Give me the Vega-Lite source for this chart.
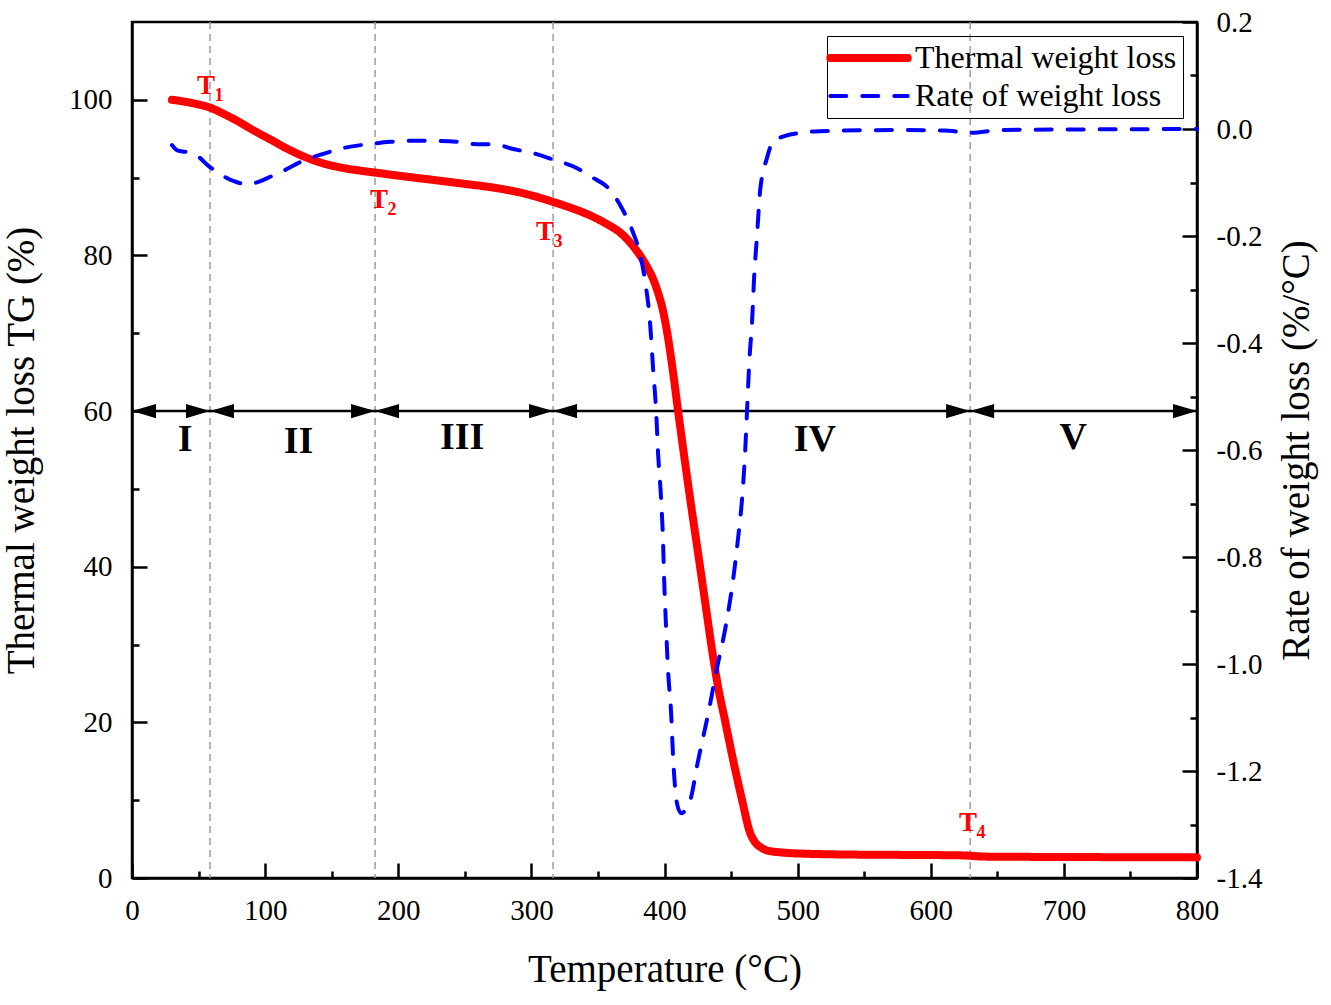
{
  "$schema": "https://vega.github.io/schema/vega-lite/v6.json",
  "width": 1065,
  "height": 856,
  "autosize": {"type": "none"},
  "padding": {"left": 132, "top": 22, "right": 134, "bottom": 127},
  "background": "white",
  "config": {
    "font": "Liberation Serif",
    "view": {"stroke": "black", "strokeWidth": 2.5},
    "axis": {
      "grid": false, "domainColor": "black", "domainWidth": 2.5,
      "tickColor": "black", "tickWidth": 2.5,
      "labelFont": "Liberation Serif", "labelFontSize": 29, "labelColor": "black",
      "titleFont": "Liberation Serif", "titleFontSize": 39, "titleFontWeight": "normal", "titleColor": "black"
    },
    "legend": {
      "orient": "top-right", "offset": 14, "strokeColor": "black", "padding": 6,
      "labelFont": "Liberation Serif", "labelFontSize": 32, "labelColor": "black", "labelLimit": 400,
      "symbolType": "stroke", "symbolSize": 6000, "symbolOffset": 20, "labelOffset": 30, "rowPadding": 6
    }
  },
  "datasets": {
    "tg": [
      {"T": 30, "v": 100}, {"T": 40, "v": 99.75}, {"T": 50, "v": 99.4}, {"T": 58.6, "v": 99.0},
      {"T": 70, "v": 98.1}, {"T": 81, "v": 97.1}, {"T": 92, "v": 96.0}, {"T": 104, "v": 94.9},
      {"T": 114, "v": 93.95}, {"T": 124, "v": 93.1}, {"T": 136, "v": 92.25}, {"T": 148.8, "v": 91.6},
      {"T": 161.5, "v": 91.15}, {"T": 173.5, "v": 90.85}, {"T": 182.6, "v": 90.65}, {"T": 200, "v": 90.25},
      {"T": 224, "v": 89.75}, {"T": 250, "v": 89.2}, {"T": 274, "v": 88.65}, {"T": 295, "v": 87.95},
      {"T": 316, "v": 86.9}, {"T": 330, "v": 86.1}, {"T": 346, "v": 85.0}, {"T": 357, "v": 84.0},
      {"T": 367, "v": 82.9}, {"T": 375, "v": 81.5}, {"T": 382, "v": 79.9}, {"T": 387, "v": 78.5},
      {"T": 391.4, "v": 77.0}, {"T": 395, "v": 75.3}, {"T": 399, "v": 72.8}, {"T": 402, "v": 70.1},
      {"T": 406.5, "v": 64.9}, {"T": 410.2, "v": 60.0}, {"T": 414, "v": 55.2}, {"T": 419.2, "v": 48.8},
      {"T": 424.5, "v": 42.6}, {"T": 428.3, "v": 38.1}, {"T": 432, "v": 33.7}, {"T": 435.8, "v": 29.2},
      {"T": 440.3, "v": 24.5}, {"T": 445.5, "v": 20.2}, {"T": 451.5, "v": 15.2}, {"T": 458.3, "v": 10.0},
      {"T": 464.3, "v": 5.8}, {"T": 468, "v": 4.6}, {"T": 471.8, "v": 4.0}, {"T": 478, "v": 3.5},
      {"T": 486.8, "v": 3.3}, {"T": 500, "v": 3.15}, {"T": 547, "v": 3.0}, {"T": 600, "v": 2.95},
      {"T": 625, "v": 2.9}, {"T": 640, "v": 2.75}, {"T": 700, "v": 2.7}, {"T": 800, "v": 2.65}
    ],
    "rate": [
      {"T": 30, "v": -0.030}, {"T": 34, "v": -0.040}, {"T": 38, "v": -0.042}, {"T": 44, "v": -0.044},
      {"T": 50, "v": -0.052}, {"T": 57, "v": -0.068}, {"T": 66, "v": -0.084}, {"T": 76, "v": -0.097},
      {"T": 86, "v": -0.103}, {"T": 96, "v": -0.098}, {"T": 105, "v": -0.088}, {"T": 113, "v": -0.079},
      {"T": 128, "v": -0.060}, {"T": 143, "v": -0.047}, {"T": 158, "v": -0.036}, {"T": 179, "v": -0.028},
      {"T": 194, "v": -0.024}, {"T": 211, "v": -0.022}, {"T": 224, "v": -0.022}, {"T": 246, "v": -0.024},
      {"T": 256, "v": -0.028}, {"T": 274, "v": -0.029}, {"T": 284, "v": -0.036}, {"T": 304, "v": -0.047},
      {"T": 316, "v": -0.057}, {"T": 334, "v": -0.073}, {"T": 344, "v": -0.088}, {"T": 359, "v": -0.114},
      {"T": 368, "v": -0.148}, {"T": 376, "v": -0.191}, {"T": 381, "v": -0.228}, {"T": 385.4, "v": -0.284},
      {"T": 389.2, "v": -0.364}, {"T": 391.4, "v": -0.447}, {"T": 393.7, "v": -0.527}, {"T": 395.2, "v": -0.607},
      {"T": 397.4, "v": -0.690}, {"T": 398.9, "v": -0.770}, {"T": 399.7, "v": -0.839}, {"T": 401.2, "v": -0.933},
      {"T": 402.7, "v": -1.013}, {"T": 405, "v": -1.093}, {"T": 406.5, "v": -1.176}, {"T": 409.5, "v": -1.262},
      {"T": 412.5, "v": -1.279}, {"T": 416, "v": -1.272}, {"T": 419.2, "v": -1.256}, {"T": 425.2, "v": -1.181},
      {"T": 432.8, "v": -1.093}, {"T": 439.5, "v": -1.007}, {"T": 446.3, "v": -0.925}, {"T": 451.6, "v": -0.841},
      {"T": 455.3, "v": -0.764}, {"T": 458.3, "v": -0.690}, {"T": 460.6, "v": -0.602}, {"T": 462.1, "v": -0.521},
      {"T": 463.6, "v": -0.439}, {"T": 465.8, "v": -0.359}, {"T": 467.3, "v": -0.279}, {"T": 469.6, "v": -0.196},
      {"T": 471.8, "v": -0.116}, {"T": 477, "v": -0.054}, {"T": 482, "v": -0.022}, {"T": 502, "v": -0.007},
      {"T": 517, "v": -0.004}, {"T": 577, "v": -0.002}, {"T": 610, "v": -0.003}, {"T": 630, "v": -0.007},
      {"T": 652, "v": -0.002}, {"T": 700, "v": -0.001}, {"T": 800, "v": 0.0}
    ],
    "bounds": [{"T": 58.6}, {"T": 182.6}, {"T": 316.3}, {"T": 629.6}],
    "arrows": [
      {"T": 0, "v": 60, "dir": "left"}, {"T": 58.6, "v": 60, "dir": "right"},
      {"T": 58.6, "v": 60, "dir": "left"}, {"T": 182.6, "v": 60, "dir": "right"},
      {"T": 182.6, "v": 60, "dir": "left"}, {"T": 316.3, "v": 60, "dir": "right"},
      {"T": 316.3, "v": 60, "dir": "left"}, {"T": 629.6, "v": 60, "dir": "right"},
      {"T": 629.6, "v": 60, "dir": "left"}, {"T": 800, "v": 60, "dir": "right"}
    ],
    "span": [{"T": 0, "T2": 800, "v": 60}],
    "roman": [
      {"T": 40, "v": 56.3, "label": "I"}, {"T": 125, "v": 56.0, "label": "II"},
      {"T": 248, "v": 56.5, "label": "III"}, {"T": 513, "v": 56.3, "label": "IV"},
      {"T": 707, "v": 56.5, "label": "V"}
    ],
    "tlabels": [
      {"T": 55.6, "v": 101.8, "label": "T", "sub": "1"},
      {"T": 185.6, "v": 87.1, "label": "T", "sub": "2"},
      {"T": 310.3, "v": 83.0, "label": "T", "sub": "3"},
      {"T": 628, "v": 7.1, "label": "T", "sub": "4"}
    ]
  },
  "layer": [
    {
      "layer": [
        {
          "data": {"name": "bounds"},
          "mark": {"type": "rule", "color": "#9e9e9e", "strokeWidth": 1.5, "strokeDash": [7, 5]},
          "encoding": {"x": {"field": "T", "type": "quantitative"}}
        },
        {
          "data": {"name": "span"},
          "mark": {"type": "rule", "color": "black", "strokeWidth": 2.5},
          "encoding": {
            "x": {"field": "T", "type": "quantitative"},
            "x2": {"field": "T2"},
            "y": {"field": "v", "type": "quantitative"}
          }
        },
        {
          "data": {"name": "arrows"},
          "mark": {"type": "point", "filled": true, "color": "black", "opacity": 1, "size": 576, "strokeWidth": 0},
          "encoding": {
            "x": {"field": "T", "type": "quantitative"},
            "y": {"field": "v", "type": "quantitative"},
            "shape": {
              "field": "dir", "type": "nominal",
              "scale": {"domain": ["left", "right"], "range": ["M0,0L2,-0.6L2,0.6Z", "M0,0L-2,-0.6L-2,0.6Z"]},
              "legend": null
            }
          }
        },
        {
          "data": {"name": "tg"},
          "transform": [{"calculate": "'Thermal weight loss'", "as": "series"}],
          "mark": {"type": "line", "strokeWidth": 8, "strokeCap": "round", "strokeJoin": "round", "interpolate": "monotone"},
          "encoding": {
            "x": {
              "field": "T", "type": "quantitative",
              "scale": {"domain": [0, 800], "nice": false},
              "axis": {
                "title": "Temperature (°C)",
                "values": [0, 50, 100, 150, 200, 250, 300, 350, 400, 450, 500, 550, 600, 650, 700, 750, 800],
                "labelExpr": "datum.value % 100 == 0 ? datum.label : ''",
                "tickSize": {"condition": {"test": "datum.value % 100 == 0", "value": -15}, "value": -7},
                "labelPadding": 33, "titlePadding": 25, "labelFlush": false
              }
            },
            "y": {
              "field": "v", "type": "quantitative",
              "scale": {"domain": [0, 110], "nice": false},
              "axis": {
                "orient": "left",
                "title": "Thermal weight loss TG (%)",
                "values": [0, 10, 20, 30, 40, 50, 60, 70, 80, 90, 100],
                "labelExpr": "datum.value % 20 == 0 ? datum.label : ''",
                "tickSize": {"condition": {"test": "datum.value % 20 == 0", "value": -15}, "value": -7},
                "labelPadding": 35, "titlePadding": 27
              }
            },
            "color": {
              "field": "series", "type": "nominal",
              "scale": {"domain": ["Thermal weight loss", "Rate of weight loss"], "range": ["#ff0000", "#0000ff"]},
              "legend": {
                "title": null,
                "encode": {"symbols": {"update": {"strokeWidth": {"signal": "datum.value === 'Thermal weight loss' ? 8 : 4"}, "strokeCap": {"value": "round"}}}}
              }
            },
            "strokeDash": {
              "field": "series", "type": "nominal",
              "scale": {"domain": ["Thermal weight loss", "Rate of weight loss"], "range": [[1, 0], [16, 16]]},
              "legend": {"title": null}
            }
          }
        },
        {
          "data": {"name": "roman"},
          "mark": {"type": "text", "font": "Liberation Serif", "fontSize": 38, "fontWeight": "bold", "color": "black", "align": "center", "baseline": "middle"},
          "encoding": {
            "x": {"field": "T", "type": "quantitative"},
            "y": {"field": "v", "type": "quantitative"},
            "text": {"field": "label"}
          }
        },
        {
          "data": {"name": "tlabels"},
          "mark": {"type": "text", "font": "Liberation Serif", "fontSize": 27, "fontWeight": "bold", "color": "#ff0000", "align": "center", "baseline": "middle"},
          "encoding": {
            "x": {"field": "T", "type": "quantitative"},
            "y": {"field": "v", "type": "quantitative"},
            "text": {"field": "label"}
          }
        },
        {
          "data": {"name": "tlabels"},
          "mark": {"type": "text", "font": "Liberation Serif", "fontSize": 18, "fontWeight": "bold", "color": "#ff0000", "align": "center", "baseline": "middle", "dx": 13, "dy": 10},
          "encoding": {
            "x": {"field": "T", "type": "quantitative"},
            "y": {"field": "v", "type": "quantitative"},
            "text": {"field": "sub"}
          }
        }
      ]
    },
    {
      "data": {"name": "rate"},
      "transform": [{"calculate": "'Rate of weight loss'", "as": "series"}],
      "mark": {"type": "line", "strokeWidth": 4, "strokeCap": "round", "interpolate": "monotone"},
      "encoding": {
        "x": {"field": "T", "type": "quantitative", "scale": {"domain": [0, 800], "nice": false}},
        "y": {
          "field": "v", "type": "quantitative",
          "scale": {"domain": [-1.4, 0.2], "nice": false, "zero": false},
          "axis": {
            "orient": "right",
            "title": "Rate of weight loss (%/°C)",
            "titleAngle": 270, "titleBaseline": "top",
            "values": [-1.4, -1.3, -1.2, -1.1, -1.0, -0.9, -0.8, -0.7, -0.6, -0.5, -0.4, -0.3, -0.2, -0.1, 0, 0.1, 0.2],
            "labelExpr": "abs(round(datum.value * 10)) % 2 == 0 ? (datum.value < -0.001 ? '-' : '') + format(abs(datum.value), '.1f') : ''",
            "tickSize": {"condition": {"test": "abs(round(datum.value * 10)) % 2 == 0", "value": -15}, "value": -7},
            "labelPadding": 34, "titlePadding": 16, "labelFlush": false
          }
        },
        "color": {
          "field": "series", "type": "nominal",
          "scale": {"domain": ["Thermal weight loss", "Rate of weight loss"], "range": ["#ff0000", "#0000ff"]},
          "legend": {
            "title": null,
            "encode": {"symbols": {"update": {"strokeWidth": {"signal": "datum.value === 'Thermal weight loss' ? 8 : 4"}, "strokeCap": {"value": "round"}}}}
          }
        },
        "strokeDash": {
          "field": "series", "type": "nominal",
          "scale": {"domain": ["Thermal weight loss", "Rate of weight loss"], "range": [[1, 0], [16, 16]]},
          "legend": {"title": null}
        }
      }
    }
  ],
  "resolve": {"scale": {"y": "independent"}}
}
